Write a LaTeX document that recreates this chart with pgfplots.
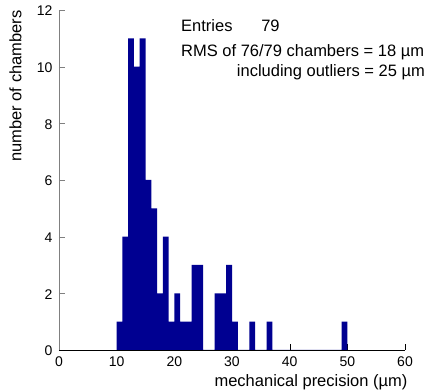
\documentclass[border=0pt]{standalone}
\usepackage{pgfplots}
\pgfplotsset{compat=1.18}
\usepackage{fontspec}
\setmainfont{Liberation Sans}
\definecolor{barblue}{RGB}{0,0,145}
\begin{document}
\begin{tikzpicture}
\begin{axis}[
  at={(0,0)}, anchor=south west,
  scale only axis, width=346pt, height=340pt,
  xmin=0, xmax=60, ymin=0, ymax=12,
  xtick={0,10,...,60}, ytick={0,2,...,12},
  axis lines=left, axis line style={-},
  y axis line style={draw=gray},
  ytick style={draw=gray},
  xtick style={draw=black},
  tick align=inside, major tick length=6pt,
  clip=false,
  /pgf/number format/assume math mode=true,
  tick label style={font=\fontsize{14}{16}\selectfont},
  yticklabel style={xshift=-3pt, yshift=-1pt},
  xticklabel style={yshift=-3pt},
  xlabel={mechanical precision (µm)},
  ylabel={number of chambers},
  label style={font=\fontsize{16.5}{19}\selectfont},
  xlabel style={at={(rel axis cs:1,0)}, anchor=east, xshift=6pt, yshift=-32pt},
  ylabel style={at={(rel axis cs:0,1)}, anchor=south east, xshift=3pt, yshift=34pt},
]
\addplot[ybar interval, fill=barblue, draw=none] coordinates {
 (10,1) (11,4) (12,11) (13,10) (14,11) (15,6) (16,5) (17,2) (18,4) (19,1)
 (20,2) (21,1) (22,1) (23,3) (24,3) (25,0) (26,0) (27,2) (28,2) (29,3)
 (30,1) (31,0) (32,0) (33,1) (34,0) (35,0) (36,1) (37,0) (38,0) (39,0)
 (40,0) (41,0) (42,0) (43,0) (44,0) (45,0) (46,0) (47,0) (48,0) (49,1) (50,0)
};
\node[anchor=west, font=\fontsize{16.5}{19}\selectfont, inner sep=0pt] at (rel axis cs:0.3526,0.953) {Entries};
\node[anchor=west, font=\fontsize{16.5}{19}\selectfont, inner sep=0pt] at (rel axis cs:0.584,0.953) {79};
\node[anchor=west, font=\fontsize{16.5}{19}\selectfont, inner sep=0pt] at (rel axis cs:0.3526,0.877) {RMS of 76/79 chambers = 18 µm};
\node[anchor=east, font=\fontsize{16.5}{19}\selectfont, inner sep=0pt] at (rel axis cs:1.058,0.8156) {including outliers = 25 µm};
\end{axis}
\pgfresetboundingbox
\path (-59pt,-40pt) rectangle (374pt,350pt);
\end{tikzpicture}
\end{document}
